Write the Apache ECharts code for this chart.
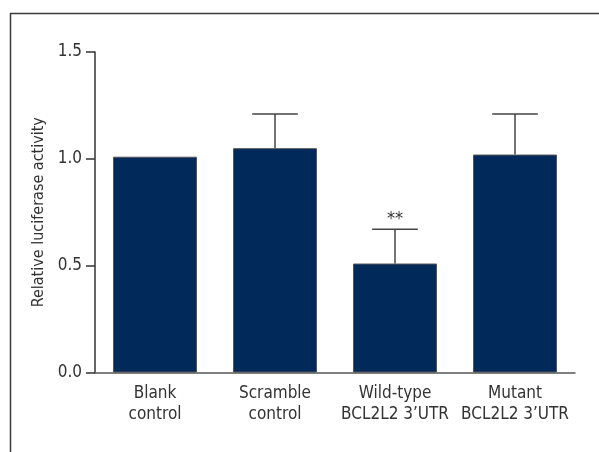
<!DOCTYPE html>
<html>
<head>
<meta charset="utf-8">
<script src="https://cdn.jsdelivr.net/npm/echarts@6/dist/echarts.min.js"></script>
<style>
  html, body { margin: 0; padding: 0; background: #fff; }
  #chart { width: 599px; height: 452px; }
</style>
</head>
<body>
<div id="chart"></div>
<script>
// Luciferase reporter assay: group means and upper SD
var categories = ['Blank\ncontrol', 'Scramble\ncontrol', 'Wild-type\nBCL2L2 3\u2019UTR', 'Mutant\nBCL2L2 3\u2019UTR'];
var means = [1.01, 1.05, 0.51, 1.02];
var errorTops = [null, 1.21, 0.67, 1.21];
var sigMarks = ['', '', '**', ''];
var yTicks = [0, 0.5, 1.0, 1.5];

var FONT = '"Liberation Sans Narrow", "DejaVu Sans Condensed", "Roboto", sans-serif';
var chart = echarts.init(document.getElementById('chart'), null, { renderer: 'canvas' });

var errData = means.map(function (m, i) { return [i, m, errorTops[i]]; });

chart.setOption({
  animation: false,
  backgroundColor: '#fff',
  graphic: [{
    type: 'rect',
    left: 8, top: 11,
    shape: { width: 640, height: 480 },
    style: { fill: 'none', stroke: '#3a3a3a', lineWidth: 1.5 },
    silent: true
  }],
  grid: { left: 95, right: 24, top: 52, bottom: 79.5, containLabel: false },
  xAxis: {
    type: 'category',
    data: categories,
    axisLine: { lineStyle: { color: '#555', width: 1.5 } },
    axisTick: { alignWithLabel: true, length: 7, lineStyle: { color: '#555', width: 1.5 } },
    axisLabel: { interval: 0, color: '#333', fontFamily: FONT, fontSize: 17, lineHeight: 21, margin: 11 }
  },
  yAxis: {
    type: 'value',
    min: yTicks[0], max: yTicks[yTicks.length - 1], interval: 0.5,
    name: 'Relative luciferase activity',
    nameLocation: 'middle', nameGap: 39, nameRotate: 90,
    nameTextStyle: { color: '#333', fontFamily: FONT, fontSize: 16 },
    axisLine: { show: true, lineStyle: { color: '#333', width: 1.5 } },
    axisTick: { show: true, length: 9, lineStyle: { color: '#333', width: 1.5 } },
    splitLine: { show: false },
    axisLabel: {
      color: '#333', fontFamily: FONT, fontSize: 17, margin: 13,
      formatter: function (v) { return v.toFixed(1); }
    }
  },
  series: [{
    type: 'bar',
    data: means,
    barWidth: '70%',
    itemStyle: { color: '#012a5b', borderColor: '#555', borderWidth: 1 }
  }, {
    type: 'custom',
    data: errData,
    z: 5,
    renderItem: function (params, api) {
      var top = api.value(2);
      if (top === null || top === undefined || isNaN(top)) return null;
      var i = api.value(0);
      var base = api.coord([i, api.value(1)]);
      var cap = api.coord([i, top]);
      var half = api.size([1, 0])[0] * 0.19;
      var children = [
        { type: 'line', shape: { x1: base[0], y1: base[1], x2: cap[0], y2: cap[1] },
          style: { stroke: '#444', lineWidth: 1.5 } },
        { type: 'line', shape: { x1: cap[0] - half, y1: cap[1], x2: cap[0] + half, y2: cap[1] },
          style: { stroke: '#444', lineWidth: 1.5 } }
      ];
      var mark = sigMarks[i];
      if (mark) {
        children.push({
          type: 'text',
          style: { text: mark, x: cap[0], y: cap[1] - 1, textAlign: 'center', textVerticalAlign: 'bottom',
                   fill: '#333', font: '18px ' + FONT }
        });
      }
      return { type: 'group', children: children };
    }
  }]
});
</script>
</body>
</html>
